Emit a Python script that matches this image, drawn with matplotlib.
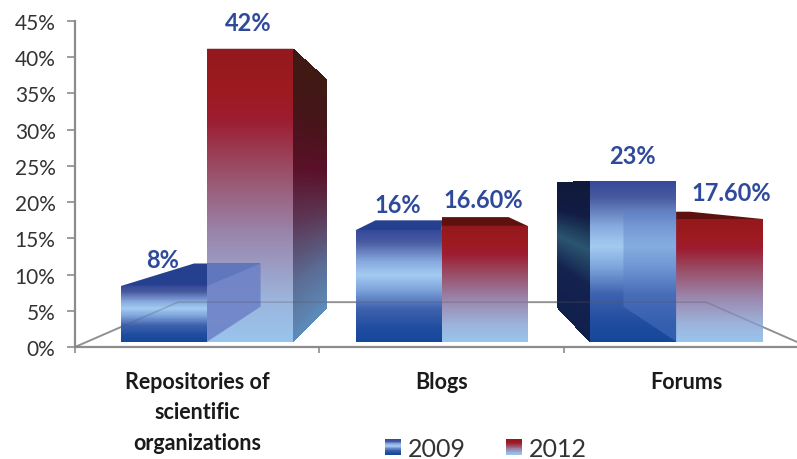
import numpy as np
import matplotlib
matplotlib.use("Agg")
import matplotlib.pyplot as plt
from matplotlib.colors import LinearSegmentedColormap
from matplotlib.legend_handler import HandlerBase
from matplotlib.patches import Patch, Polygon, Rectangle

categories = ["Repositories of\nscientific\norganizations", "Blogs", "Forums"]
values_2009 = [8, 16, 23]
values_2012 = [42, 16.6, 17.6]
labels_2009 = ["8%", "16%", "23%"]
labels_2012 = ["42%", "16.60%", "17.60%"]
series_names = ["2009", "2012"]
y_ticks = list(range(0, 50, 5))

plt.rcParams["font.family"] = ["Lato", "DejaVu Sans"]

W, H = 797, 460
fig = plt.figure(figsize=(W / 100, H / 100), dpi=100, facecolor="white")
ax = fig.add_axes([75 / W, (H - 348) / H, 722 / W, 326 / H])

blue_cmap = LinearSegmentedColormap.from_list("b", [
    (0, "#14479a"), (0.12, "#1f4c9f"), (0.3, "#3f62ae"), (0.47, "#7fa5dc"), (0.6, "#a3cbf0"),
    (0.72, "#86a9de"), (0.9, "#47599f"), (1, "#36499a")])
red_cmap = LinearSegmentedColormap.from_list("r", [
    (0, "#98c4ec"), (0.14, "#9cb4dc"), (0.37, "#9a85ab"), (0.6, "#9a4a62"),
    (0.76, "#9c1c30"), (0.85, "#9e1a20"), (1, "#93181c")])
blue_side_cmap = LinearSegmentedColormap.from_list("bs", [
    (0, "#101f4c"), (0.35, "#14224e"), (0.58, "#2a5570"), (0.78, "#121c44"), (1, "#0f1a3a")])
red_side_cmap = LinearSegmentedColormap.from_list("rs", [
    (0, "#5c8cba"), (0.2, "#5b6c94"), (0.42, "#5c3553"), (0.6, "#5a1028"),
    (0.8, "#451518"), (1, "#3f1a14")])

# perspective layout (axes data units)
VPX, VPY, DEPTH = 1.005, 22.1, 0.227
SPACING, BAR_W, BASE, FRONT = 0.96, 0.352, 0.72, 0.963
FLOOR_DEPTH = 0.28


def back(x, y, t=DEPTH):
    return x + (VPX - x) * t, y + (VPY - y) * t


def face(bl, br, tr, tl, cmap, z):
    n = 160
    f = np.linspace(0, 1, n + 1)[:, None]
    X = np.hstack([bl[0] + (tl[0] - bl[0]) * f, br[0] + (tr[0] - br[0]) * f])
    Y = np.hstack([bl[1] + (tl[1] - bl[1]) * f, br[1] + (tr[1] - br[1]) * f])
    C = cmap((f[:-1] + f[1:]) / 2)
    return ax.pcolormesh(X, Y, C, shading="flat", zorder=z, antialiased=False, linewidth=0)


# floor, behind the bars and faintly visible through them
fl, fr = (-0.5, 0.0), (2.5, 0.0)
floor = [fl, back(*fl, FLOOR_DEPTH), back(*fr, FLOOR_DEPTH), fr]
fx, fy = zip(*floor)
ax.plot(fx, fy, color="#a8a8a8", lw=1.4, zorder=1)
ax.plot(fx, fy, color="#555566", lw=1.2, alpha=0.28, zorder=30)

series = [(values_2012, red_cmap, red_side_cmap, "#5e1210", 0.0, labels_2012, 5),
          (values_2009, blue_cmap, blue_side_cmap, "#25408f", -1.0, labels_2009, 10)]
label_dx = {"17.60%": 12, "42%": -2}
for vals, cmap, side_cmap, topc, side, texts, z0 in series:
    for i, v in enumerate(vals):
        c = 1.0 + (i - 1) * SPACING
        x0, x1 = c + side * BAR_W, c + (1 + side) * BAR_W
        top = BASE + v * FRONT
        is_left_group = c < VPX - 0.1
        is_right_group = c > VPX + 0.1
        bx0, ty = back(x0, top)
        bx1, _ = back(x1, top)
        _, by = back(x0, BASE)
        # top face
        ax.add_patch(Polygon([(x0, top), (x1, top), (bx1, ty), (bx0, ty)],
                             closed=True, fc=topc, ec="none", zorder=z0))
        # outer, solid side face
        if (is_left_group and side == 0) or (is_right_group and side == -1):
            sx = x1 if is_left_group else x0
            sb = bx1 if is_left_group else bx0
            face((sx, BASE), (sb, by), (sb, ty), (sx, top), side_cmap, z0 + 1)
        # front face
        face((x0, BASE), (x1, BASE), (x1, top), (x0, top), cmap, z0 + 2)
        ax.annotate(texts[i], ((x0 + x1) / 2, top), xytext=(label_dx.get(texts[i], -1) * 0.72, 26 * 0.72),
                    textcoords="offset points", ha="center", va="center",
                    fontsize=17, fontweight="bold", color="#2f4a9a", zorder=40)

# translucent inner side faces, seen through the neighbouring bar
for vals, side, col, alpha in [(values_2009, -1.0, "#6b80c6", 0.85),
                               (values_2012, 0.0, "#5a7fc8", 0.4)]:
    idx = 0 if side < 0 else 2
    c = 1.0 + (idx - 1) * SPACING
    sx = c + (1 + side) * BAR_W if side < 0 else c
    top = BASE + vals[idx] * FRONT
    sb, ty = back(sx, top)
    _, by = back(sx, BASE)
    ax.add_patch(Polygon([(sx, BASE), (sb, by), (sb, ty), (sx, ty)], closed=True,
                         fc=col, ec="none", alpha=alpha, zorder=20))

ax.set_xlim(-0.5, 2.453)
ax.set_ylim(0, 45)
for s in ("top", "right"):
    ax.spines[s].set_visible(False)
for s in ("left", "bottom"):
    ax.spines[s].set_color("#8c8c8c")
    ax.spines[s].set_linewidth(1.6)
ax.set_yticks(y_ticks)
ax.set_yticklabels([f"{t}%" for t in y_ticks], fontsize=15, color="#333333")
ax.tick_params(axis="y", length=5.5, width=1.2, color="#8c8c8c", pad=8.5)
ax.set_xticks([-0.5, 0.5, 1.5])
ax.set_xticklabels([])
ax.tick_params(axis="x", which="major", length=4, width=1.2, color="#8c8c8c")
ax.set_xticks([0, 1, 2], minor=True)
ax.set_xticklabels(categories, minor=True, fontsize=15.5, fontweight="bold",
                   color="#1a1a1a", linespacing=1.58)
ax.tick_params(axis="x", which="minor", length=0, pad=17)


class GradientHandler(HandlerBase):
    def __init__(self, cmap):
        super().__init__()
        self.cmap = cmap

    def create_artists(self, legend, orig, xd, yd, width, height, fontsize, trans):
        n = 24
        out = []
        for k in range(n):
            out.append(Rectangle((-xd, -yd + height * k / n), width, height / n + 0.2,
                                 fc=self.cmap((k + 0.5) / n), ec="none", transform=trans))
        return out


h = [Patch(label=series_names[0]), Patch(label=series_names[1])]
leg = ax.legend(h, series_names, ncol=2, frameon=False, fontsize=18,
                labelcolor="#333333", handlelength=0.64, handleheight=0.55,
                handletextpad=0.28, columnspacing=1.6, borderpad=0, borderaxespad=0,
                loc="center left", bbox_to_anchor=(385 / W, (H - 449.5) / H),
                bbox_transform=fig.transFigure,
                handler_map={h[0]: GradientHandler(blue_cmap), h[1]: GradientHandler(red_cmap)})

fig.savefig("out.png", dpi=100, facecolor="white")
